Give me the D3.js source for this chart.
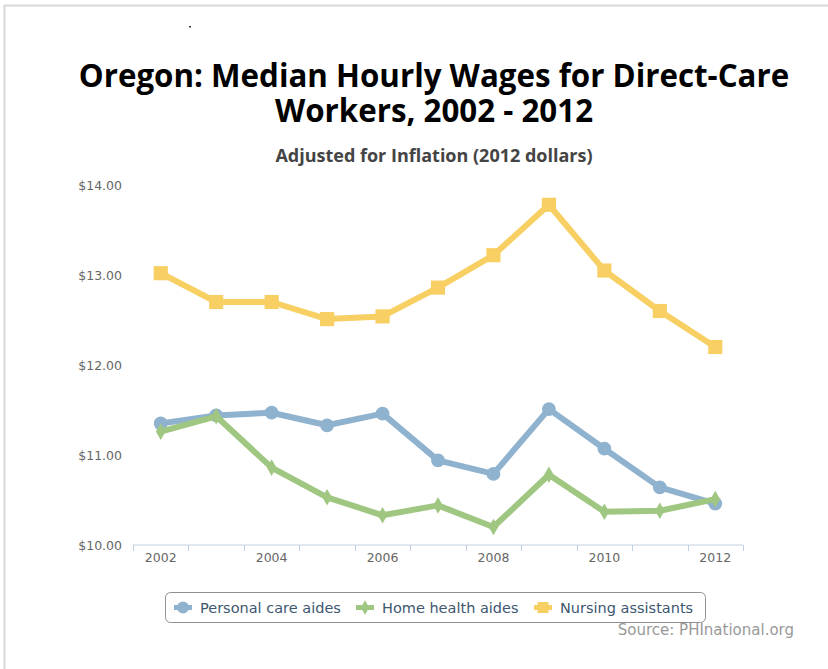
<!DOCTYPE html>
<html>
<head>
<meta charset="utf-8">
<script src="https://cdn.jsdelivr.net/npm/d3@7"></script>
<style>
  html, body { margin: 0; padding: 0; background: #fff; }
  svg { display: block; }
</style>
</head>
<body>
<script>
const years = ["2002","2003","2004","2005","2006","2007","2008","2009","2010","2011","2012"];
const xTickLabels = ["2002","2004","2006","2008","2010","2012"];
const yTicks = [10, 11, 12, 13, 14];
const personalCare = [11.35, 11.44, 11.47, 11.33, 11.46, 10.94, 10.79, 11.51, 11.07, 10.64, 10.46];
const homeHealth   = [11.26, 11.43, 10.86, 10.53, 10.33, 10.44, 10.20, 10.78, 10.37, 10.38, 10.51];
const nursing      = [13.02, 12.70, 12.70, 12.51, 12.54, 12.86, 13.22, 13.78, 13.05, 12.60, 12.20];
const seriesNames  = ["Personal care aides", "Home health aides", "Nursing assistants"];
const seriesColors = ["#8fb2cf", "#a0c781", "#f8cf63"];
const seriesSymbols = ["circle", "diamond", "square"];

const W = 828, H = 669;
const svg = d3.select("body").append("svg").attr("width", W).attr("height", H);

// frame
svg.append("rect").attr("x", 0).attr("y", 0).attr("width", W).attr("height", H).attr("fill", "#fff");
svg.append("line").attr("x1", 4).attr("x2", W).attr("y1", 5.5).attr("y2", 5.5).attr("stroke", "#d8d8d8").attr("stroke-width", 2);
svg.append("line").attr("x1", 4.5).attr("x2", 4.5).attr("y1", 5).attr("y2", H).attr("stroke", "#d8d8d8").attr("stroke-width", 2);
svg.append("rect").attr("x", 189).attr("y", 26).attr("width", 2).attr("height", 1.5).attr("fill", "#333");

// titles
const titleLines = ["Oregon: Median Hourly Wages for Direct-Care", "Workers, 2002 - 2012"];
svg.selectAll("text.title").data(titleLines).join("text").attr("class", "title")
  .attr("x", 434).attr("y", (d, i) => 87 + i * 35).attr("text-anchor", "middle")
  .attr("font-family", "Open Sans").attr("font-weight", "bold").attr("font-size", 31.3).attr("fill", "#000")
  .text(d => d);
svg.append("text").attr("x", 434).attr("y", 162).attr("text-anchor", "middle")
  .attr("font-family", "Open Sans").attr("font-weight", "bold").attr("font-size", 18).attr("fill", "#444")
  .text("Adjusted for Inflation (2012 dollars)");

// scales
const x = d3.scaleBand().domain(years).range([133, 743]);
const y = d3.scaleLinear().domain([10, 14]).range([545, 185]);
const cx = d => x(d) + x.bandwidth() / 2;

// y labels
const yAxis = d3.axisLeft(y).tickValues(yTicks).tickSize(0).tickFormat(d => "$" + d3.format(".2f")(d));
const gy = svg.append("g").attr("transform", "translate(122,0)").call(yAxis);
gy.select(".domain").remove();
gy.selectAll("text").attr("font-family", "DejaVu Sans").attr("font-size", 12.5).attr("fill", "#666")
  .attr("text-anchor", "end").attr("dy", "0.35em").attr("x", 0);

// x axis
const gx = svg.append("g").attr("transform", "translate(0,545)");
gx.append("line").attr("x1", 133).attr("x2", 743).attr("y1", 0).attr("y2", 0).attr("stroke", "#c0d0e0").attr("stroke-width", 1);
const boundaries = years.map(d => x(d)).concat([x(years[years.length - 1]) + x.bandwidth()]);
gx.selectAll("line.tick").data(boundaries).join("line").attr("class", "tick")
  .attr("x1", d => Math.round(d) + 0.5).attr("x2", d => Math.round(d) + 0.5).attr("y1", 0).attr("y2", 6)
  .attr("stroke", "#c0d0e0");
gx.selectAll("text").data(xTickLabels).join("text")
  .attr("x", d => cx(d)).attr("y", 17).attr("text-anchor", "middle")
  .attr("font-family", "DejaVu Sans").attr("font-size", 12.5).attr("fill", "#666").text(d => d);

// series
const allSeries = [personalCare, homeHealth, nursing];
const line = d3.line().x((d, i) => cx(years[i])).y(d => y(d));
const symType = { circle: d3.symbolCircle, diamond: d3.symbolDiamond, square: d3.symbolSquare };
const symSize = { circle: 150, diamond: 80, square: 200 };

allSeries.forEach((vals, si) => {
  const g = svg.append("g");
  g.append("path").datum(vals).attr("d", line).attr("fill", "none")
    .attr("stroke", seriesColors[si]).attr("stroke-width", 6).attr("stroke-linejoin", "round");
  g.selectAll("path.m").data(vals).join("path").attr("class", "m")
    .attr("transform", (d, i) => `translate(${cx(years[i])},${y(d)})`)
    .attr("d", d3.symbol().type(symType[seriesSymbols[si]]).size(symSize[seriesSymbols[si]]))
    .attr("fill", seriesColors[si]);
});

// legend
const lg = svg.append("g");
lg.append("rect").attr("x", 165.5).attr("y", 592.5).attr("width", 540).attr("height", 30).attr("rx", 5)
  .attr("fill", "#fff").attr("stroke", "#909090").attr("stroke-width", 1);
const legendX = [174, 356, 534];
const legendSize = { circle: 110, diamond: 60, square: 120 };
seriesNames.forEach((name, si) => {
  const gx0 = legendX[si];
  lg.append("line").attr("x1", gx0).attr("x2", gx0 + 18).attr("y1", 607.5).attr("y2", 607.5)
    .attr("stroke", seriesColors[si]).attr("stroke-width", 5);
  lg.append("path").attr("transform", `translate(${gx0 + 9},607.5)`)
    .attr("d", d3.symbol().type(symType[seriesSymbols[si]]).size(legendSize[seriesSymbols[si]]))
    .attr("fill", seriesColors[si]);
  lg.append("text").attr("x", gx0 + 26).attr("y", 612.5)
    .attr("font-family", "DejaVu Sans").attr("font-size", 14.5).attr("fill", "#3e576f").text(name);
});

svg.append("text").attr("x", 794).attr("y", 635).attr("text-anchor", "end")
  .attr("font-family", "DejaVu Sans").attr("font-size", 15).attr("fill", "#999").text("Source: PHInational.org");
</script>
</body>
</html>
